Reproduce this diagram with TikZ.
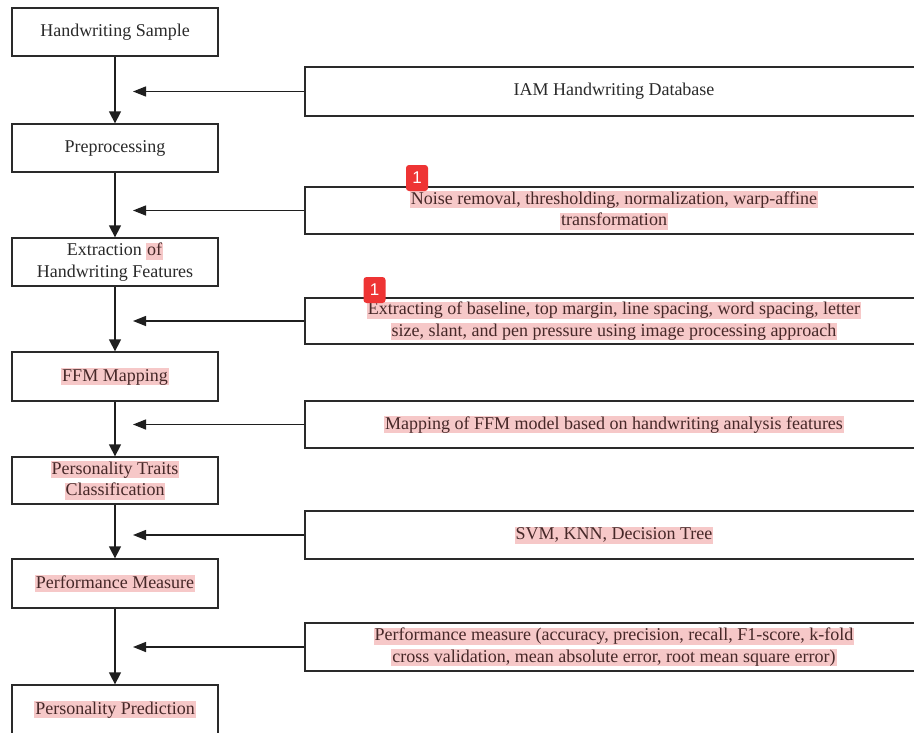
\documentclass[tikz,border=0pt]{standalone}
\usepackage{fontspec}
\setmainfont{Liberation Serif}
\newfontfamily\badgefont{Liberation Sans}
\usetikzlibrary{arrows.meta}
\definecolor{hlpink}{RGB}{246,200,200}
\definecolor{ink}{RGB}{42,42,42}
\definecolor{hlink}{RGB}{70,40,40}
\definecolor{badgered}{RGB}{238,52,52}
\newcommand{\hl}[1]{{\setlength{\fboxsep}{0pt}\colorbox{hlpink}{\kern1pt\rule[-4pt]{0pt}{17pt}\textcolor{hlink}{#1}\kern1pt}}}
\tikzset{
  lbox/.style={draw=ink, line width=1.3pt, minimum width=206pt, minimum height=48pt,
    inner sep=0pt, align=center, text=ink, font=\fontsize{18}{21.5}\selectfont},
  rbox/.style={lbox, minimum width=618pt},
  varrow/.style={draw=black!88, line width=1.4pt, -{Triangle[length=12pt,width=12pt]}},
  harrow/.style={draw=black!88, line width=1.4pt, -{Triangle[length=13pt,width=10pt]}},
  badge/.style={fill=badgered, rounded corners=3pt, minimum width=22pt, minimum height=26pt,
    inner sep=0pt, text=white, font=\badgefont\fontsize{17}{17}\selectfont}
}
\begin{document}
\begin{tikzpicture}[x=1pt,y=-1pt]
\useasboundingbox (0,0) rectangle (914,732);
\fill[white] (0,0) rectangle (914,732);
\begin{scope}
\clip (0,0) rectangle (914,732);
% left column
\node[lbox] (l1) at (115,32) {Handwriting Sample};
\node[lbox] (l2) at (115,148) {Preprocessing};
\node[lbox] (l3) at (115,262) {Extraction \hl{of}\\Handwriting Features};
\node[lbox, minimum height=49pt] (l4) at (115,376.5) {\hl{FFM Mapping}};
\node[lbox, minimum height=47pt] (l5) at (115,480.5) {\hl{Personality Traits}\\\hl{Classification}};
\node[lbox, minimum height=49pt] (l6) at (115,583.5) {\hl{Performance Measure}};
\node[lbox, minimum height=49pt] (l7) at (115,709.5) {\hl{Personality Prediction}};
% right column
\node[rbox, minimum height=49pt] (r1) at (614,91.5) {IAM Handwriting Database};
\node[rbox, minimum height=47pt] (r2) at (614,210.5) {\hl{Noise removal, thresholding, normalization, warp-affine}\\\hl{transformation}};
\node[rbox, minimum height=46pt] (r3) at (614,321) {\hl{Extracting of baseline, top margin, line spacing, word spacing, letter}\\\hl{size, slant, and pen pressure using image processing approach}};
\node[rbox, minimum height=47pt] (r4) at (614,424.5) {\hl{Mapping of FFM model based on handwriting analysis features}};
\node[rbox, minimum height=48pt] (r5) at (614,535) {\hl{SVM, KNN, Decision Tree}};
\node[rbox, minimum height=48pt] (r6) at (614,647) {\hl{Performance measure (accuracy, precision, recall, F1-score, k-fold}\\\hl{cross validation, mean absolute error, root mean square error)}};
% vertical arrows
\draw[varrow] (l1) -- (l2);
\draw[varrow] (l2) -- (l3);
\draw[varrow] (l3) -- (l4);
\draw[varrow] (l4) -- (l5);
\draw[varrow] (l5) -- (l6);
\draw[varrow] (l6) -- (l7);
% horizontal arrows
\coordinate (tipx) at (133,0);
\foreach \r in {r1,r2,r3,r4,r5,r6}{
  \draw[harrow] (\r.west) -- (\r.west -| tipx);
}
% badges
\node[badge] (b1) at (417,178) {1};
\node[badge] (b2) at (374.5,290) {1};
\end{scope}
\end{tikzpicture}
\end{document}
